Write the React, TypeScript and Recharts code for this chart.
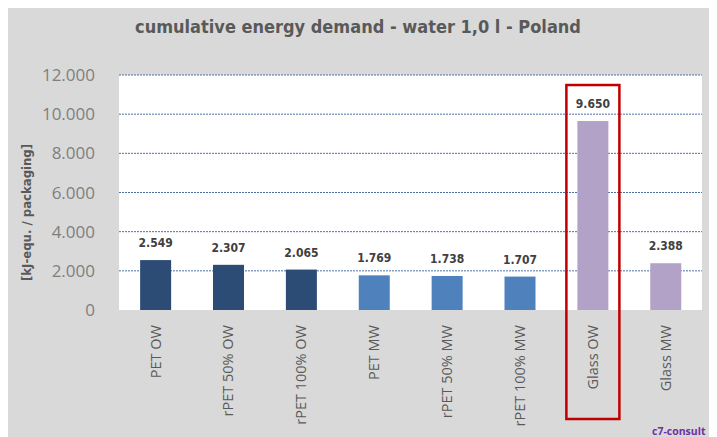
import { BarChart, Bar, XAxis, YAxis, CartesianGrid, Cell, LabelList, Label } from "recharts";

const categories = ["PET OW", "rPET 50% OW", "rPET 100% OW", "PET MW", "rPET 50% MW", "rPET 100% MW", "Glass OW", "Glass MW"];
const energyDemand = [2549, 2307, 2065, 1769, 1738, 1707, 9650, 2388];
const groups = ["ow", "ow", "ow", "mw", "mw", "mw", "glass", "glass"];
const yTicks = [0, 2000, 4000, 6000, 8000, 10000, 12000];
const gridLines = [2000, 4000, 6000, 8000, 10000, 12000];
const highlighted = "Glass OW";

const groupColors: Record<string, string> = {
  ow: "#2c4c75",
  mw: "#4f81bd",
  glass: "#b3a2c7",
};

const data = categories.map((name, i) => ({ name, value: energyDemand[i], group: groups[i] }));

const fmt = (v: number) => (v === 0 ? "0" : (v / 1000).toFixed(3));

function BarShape(props: any) {
  const { x, y, width, height, fill, payload } = props;
  return (
    <g>
      <rect x={x} y={y} width={width} height={height} fill={fill} />
      {payload.name === highlighted && (
        <rect
          x={x - 11}
          y={y - 36}
          width={width + 22}
          height={height + 36 + 109}
          fill="none"
          stroke="#c00000"
          strokeWidth={2.5}
        />
      )}
    </g>
  );
}

function XTick({ x, y, payload }: any) {
  return (
    <text
      transform={`translate(${x}, ${y + 13}) rotate(-90)`}
      textAnchor="end"
      dy="0.35em"
      fill="#595959"
      fontSize={14.5}
      fontFamily="'Open Sans', sans-serif"
    >
      {payload.value}
    </text>
  );
}

function YTitle({ viewBox }: any) {
  const cx = viewBox.x + 7;
  const cy = viewBox.y + viewBox.height / 2 + 20;
  return (
    <text
      x={cx}
      y={cy}
      transform={`rotate(-90, ${cx}, ${cy})`}
      textAnchor="middle"
      dominantBaseline="central"
      fill="#595959"
      fontSize={13}
      fontWeight="bold"
      fontFamily="'DejaVu Sans Condensed', 'Liberation Sans Narrow', sans-serif"
    >
      [kJ-equ. / packaging]
    </text>
  );
}

export default function App() {
  return (
    <div style={{ position: "relative", width: 709, height: 429, background: "#d9d9d9" }}>
      <div
        style={{
          position: "absolute",
          left: 0,
          top: 8,
          width: 700,
          textAlign: "center",
          color: "#595959",
          fontSize: 18,
          fontWeight: "bold",
          fontFamily: "'DejaVu Sans Condensed', 'Liberation Sans Narrow', sans-serif",
          whiteSpace: "nowrap",
        }}
      >
        cumulative energy demand - water 1,0 l - Poland
      </div>
      <BarChart
        width={709}
        height={429}
        data={data}
        margin={{ top: 67, right: 15, left: 11, bottom: 7 }}
        barCategoryGap="29%"
      >
        <CartesianGrid
          vertical={false}
          fill="#ffffff"
          stroke="#4a6fa5"
          strokeDasharray="2 1"
          horizontalValues={gridLines}
        />
        <XAxis
          dataKey="name"
          axisLine={false}
          tickLine={false}
          tickSize={0}
          height={120}
          interval={0}
          tick={<XTick />}
        />
        <YAxis
          width={100}
          domain={[0, 12000]}
          ticks={yTicks}
          axisLine={false}
          tickLine={false}
          tickSize={0}
          tickMargin={24}
          tickFormatter={fmt}
          tick={{ fill: "#7f7f7f", fontSize: 17, fontFamily: "'Open Sans', sans-serif" }}
        >
          <Label content={<YTitle />} />
        </YAxis>
        <Bar dataKey="value" isAnimationActive={false} shape={<BarShape />}>
          {data.map((d) => (
            <Cell key={d.name} fill={groupColors[d.group]} />
          ))}
          <LabelList
            dataKey="value"
            position="top"
            offset={13}
            formatter={(v: any) => fmt(Number(v))}
            fill="#404040"
            fontSize={12}
            fontWeight="bold"
            fontFamily="'DejaVu Sans Condensed', 'Liberation Sans Narrow', sans-serif"
          />
        </Bar>
      </BarChart>
      <div
        style={{
          position: "absolute",
          left: 644,
          top: 416,
          color: "#7030a0",
          fontSize: 10.5,
          fontWeight: "bold",
          whiteSpace: "nowrap",
          fontFamily: "'Open Sans', sans-serif",
        }}
      >
        c7-consult
      </div>
    </div>
  );
}
